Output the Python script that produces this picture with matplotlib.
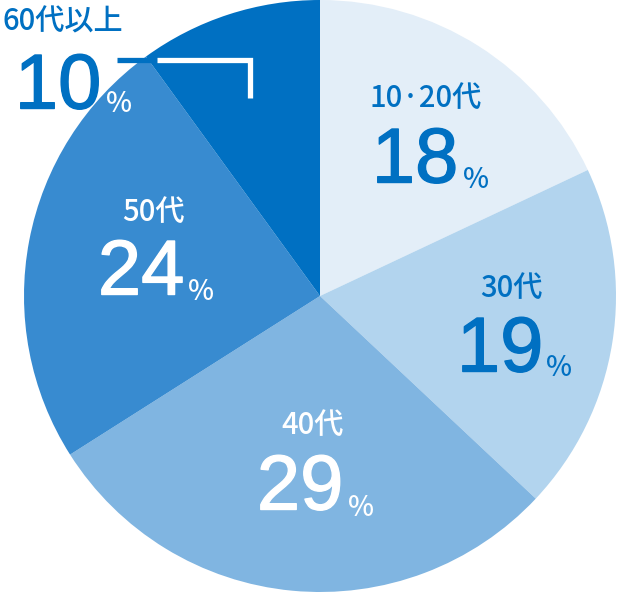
import matplotlib
matplotlib.use("Agg")
import matplotlib.pyplot as plt
import matplotlib.patheffects as pe

plt.rcParams['font.family'] = ['Noto Sans CJK JP', 'DejaVu Sans']

# 年代別構成比
labels = ['10·20代', '30代', '40代', '50代', '60代以上']
values = [18, 19, 29, 24, 10]
colors = ['#e3eef8', '#b2d4ee', '#80b5e1', '#388bd0', '#0070c2']
text_colors = ['#0070c2', '#0070c2', 'white', 'white', '#0070c2']
pct_colors = ['#0070c2', '#0070c2', 'white', 'white', 'white']

W, H = 636, 592
fig = plt.figure(figsize=(W / 100, H / 100), dpi=100)
ax = fig.add_axes([0, 0, 1, 1])

cx, cy, r = 320, 296, 296
# y軸を反転しているので counterclock=True で時計回りになる
ax.pie(values, colors=colors, startangle=-90, counterclock=True,
       center=(cx, cy), radius=r, frame=True,
       wedgeprops=dict(linewidth=0))
ax.set_xlim(0, W)
ax.set_ylim(H, 0)
ax.set_aspect('equal')
ax.axis('off')

# ラベル位置（ピクセル）
label_pos = [(426, 98), (511, 288), (313, 425), (153, 212), (3, 22)]
num_pos = [(415, 162), (500, 351), (300, 489), (141, 274), (58, 88)]
pct_pos = [(476, 179), (559, 368), (361, 507), (201, 291), (119, 104)]

for i in range(len(values)):
    ha = 'left' if i == 4 else 'center'
    ax.text(*label_pos[i], labels[i], color=text_colors[i], fontsize=21,
            fontweight='medium', ha=ha, va='center', zorder=5)
    ax.text(*num_pos[i], str(values[i]), color=text_colors[i], fontsize=56,
            family='Liberation Sans', fontweight='normal',
            ha='center', va='center', zorder=5,
            path_effects=[pe.withStroke(linewidth=1.0,
                                        foreground=text_colors[i])])
    ax.text(*pct_pos[i], '%', color=pct_colors[i], fontsize=20,
            fontweight='medium', ha='center', va='center', zorder=5)

# 60代以上の引き出し線
ax.plot([117, 157], [59.5, 59.5], color='#0070c2', lw=3.8,
        solid_capstyle='butt', zorder=4)
ax.plot([157, 250, 250], [59.5, 59.5, 98], color='white', lw=3.8,
        solid_capstyle='butt', solid_joinstyle='miter', zorder=4)

fig.savefig('out.png', dpi=100)
